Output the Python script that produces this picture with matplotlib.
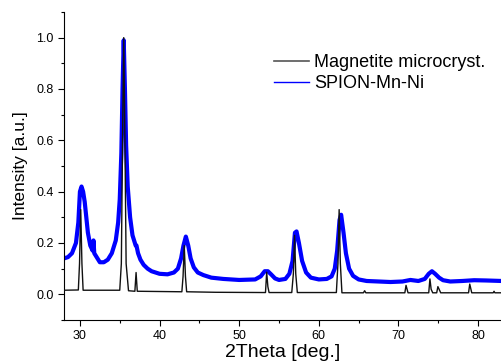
import matplotlib
matplotlib.use('Agg')
import matplotlib.pyplot as plt
from matplotlib.ticker import MultipleLocator

plt.rcParams['font.family'] = ['Liberation Sans', 'DejaVu Sans']

# Magnetite microcryst.
x_mag = [28.0, 29.8, 29.95, 30.1, 30.25, 30.4, 35.0, 35.2, 35.35, 35.5, 35.65, 35.8, 36.1,
         36.9, 37.05, 37.2, 42.8, 42.95, 43.1, 43.25, 43.4, 47.0, 53.3, 53.45, 53.6, 53.75,
         56.6, 56.8, 56.95, 57.1, 57.3, 62.2, 62.4, 62.55, 62.7, 62.9, 65.6, 65.75, 65.9,
         70.8, 70.95, 71.2, 73.8, 73.95, 74.1, 74.3, 74.8, 74.95, 75.1, 75.3, 78.8, 78.95,
         79.2, 81.9, 82.0, 82.1, 83.0]
y_mag = [0.016, 0.017, 0.12, 0.33, 0.12, 0.016, 0.016, 0.12, 0.6, 1.0, 0.6, 0.12, 0.014,
         0.012, 0.085, 0.012, 0.01, 0.07, 0.19, 0.07, 0.01, 0.008, 0.007, 0.086, 0.03, 0.007,
         0.007, 0.08, 0.23, 0.08, 0.007, 0.007, 0.12, 0.33, 0.12, 0.006, 0.006, 0.014, 0.006,
         0.006, 0.035, 0.006, 0.006, 0.06, 0.02, 0.006, 0.006, 0.03, 0.02, 0.006, 0.006, 0.04,
         0.006, 0.006, 0.012, 0.006, 0.006]

# SPION-Mn-Ni
x_sp = [28.0, 28.5, 29.0, 29.5, 29.8, 30.0, 30.2, 30.4, 30.6, 30.8, 31.0, 31.3, 31.6, 31.7,
        31.8, 32.0, 32.5, 33.0, 33.5, 34.0, 34.5, 34.8, 35.0, 35.2, 35.35, 35.5, 35.65, 35.8,
        36.0, 36.3, 36.6, 37.0, 37.1, 37.3, 37.6, 38.0, 38.5, 39.0, 40.0, 41.0, 41.8, 42.3,
        42.7, 43.0, 43.3, 43.6, 43.9, 44.3, 44.8, 45.5, 46.5, 48.0, 50.0, 52.0, 52.7, 53.2,
        53.6, 54.0, 54.5, 55.0, 55.8, 56.3, 56.7, 57.0, 57.2, 57.5, 57.9, 58.4, 59.0, 60.0,
        61.0, 61.6, 62.0, 62.3, 62.6, 62.8, 63.1, 63.4, 63.8, 64.3, 65.0, 66.0, 67.5, 69.0,
        70.5, 71.5, 72.5, 73.3, 73.8, 74.2, 74.6, 75.1, 75.6, 76.5, 78.0, 79.5, 81.0, 83.0]
y_sp = [0.14, 0.145, 0.16, 0.2, 0.28, 0.4, 0.42, 0.4, 0.36, 0.3, 0.24, 0.19, 0.17, 0.21,
        0.16, 0.15, 0.125, 0.125, 0.135, 0.16, 0.21, 0.28, 0.37, 0.55, 0.8, 0.99, 0.8, 0.58,
        0.42, 0.3, 0.23, 0.19, 0.19, 0.16, 0.135, 0.115, 0.1, 0.09, 0.08, 0.078, 0.085, 0.1,
        0.14, 0.19, 0.225, 0.19, 0.14, 0.105, 0.085, 0.075, 0.065, 0.06, 0.056, 0.058, 0.07,
        0.09, 0.09, 0.078, 0.062, 0.056, 0.06, 0.08, 0.13, 0.24, 0.245, 0.2, 0.13, 0.085,
        0.065, 0.058, 0.06, 0.07, 0.1, 0.17, 0.29, 0.31, 0.24, 0.16, 0.1, 0.072, 0.058, 0.052,
        0.05, 0.048, 0.05, 0.056, 0.052, 0.06, 0.08, 0.09, 0.08, 0.065, 0.055, 0.05, 0.052,
        0.055, 0.054, 0.052]

fig = plt.figure(figsize=(5.02, 3.62), dpi=100)
ax = fig.add_axes([0.1275, 0.116, 0.8725, 0.851])

ax.plot(x_sp, y_sp, color='#0000ff', lw=3.0, label='SPION-Mn-Ni', zorder=2)
ax.plot(x_mag, y_mag, color='#111111', lw=1.0, label='Magnetite microcryst.', zorder=3)

ax.set_xlim(28, 83)
ax.set_ylim(-0.1, 1.1)
ax.xaxis.set_major_locator(MultipleLocator(10))
ax.xaxis.set_minor_locator(MultipleLocator(5))
ax.yaxis.set_minor_locator(MultipleLocator(0.1))
ax.set_yticks([0.0, 0.2, 0.4, 0.6, 0.8, 1.0])
ax.set_yticklabels(['0.0', '0.2', '0.4', '0.6', '0.8', '1.0'])
ax.tick_params(which='major', direction='out', length=4, width=0.8, labelsize=9)
ax.tick_params(which='minor', direction='out', length=2.5, width=0.8)
for s in ['top', 'right']:
    ax.spines[s].set_visible(False)

ax.set_xlabel('2Theta [deg.]', fontsize=14, labelpad=1)
ax.set_ylabel('Intensity [a.u.]', fontsize=12.5, labelpad=6)

ax.legend([plt.Line2D([], [], color='#555555', lw=1.2), plt.Line2D([], [], color='#0000ff', lw=1.0)],
          ['Magnetite microcryst.', 'SPION-Mn-Ni'],
          loc='upper left', bbox_to_anchor=(0.443, 0.915), frameon=False, fontsize=13,
          handlelength=1.9, handletextpad=0.3, labelspacing=0.22)

plt.savefig('out.png', dpi=100)
